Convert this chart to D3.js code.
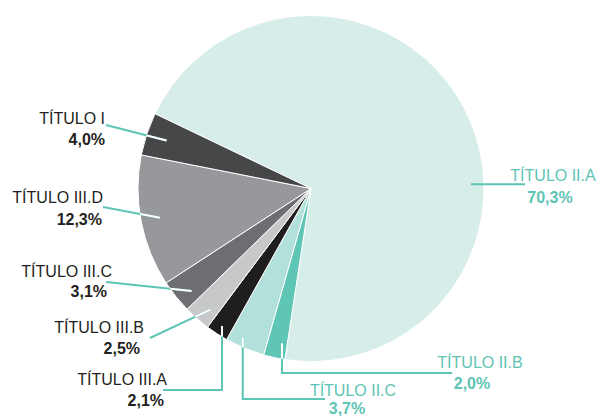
<!DOCTYPE html>
<html>
<head>
<meta charset="utf-8">
<script src="https://cdn.jsdelivr.net/npm/d3@7"></script>
<style>
  body { margin: 0; background: #fff; }
  text { font-family: "Liberation Sans", Arial, sans-serif; font-size: 16px; }
</style>
</head>
<body>
<div id="wrapper"></div>
<script>
// data, clockwise from the start angle
const categories = ["TÍTULO II.A", "TÍTULO II.B", "TÍTULO II.C", "TÍTULO III.A", "TÍTULO III.B", "TÍTULO III.C", "TÍTULO III.D", "TÍTULO I"];
const values = [70.3, 2.0, 3.7, 2.1, 2.5, 3.1, 12.3, 4.0];
const valueLabels = ["70,3%", "2,0%", "3,7%", "2,1%", "2,5%", "3,1%", "12,3%", "4,0%"];
const sliceColors = ["#d7ede9", "#5fc5b5", "#b2e0da", "#1f1d1e", "#c7c8ca", "#6d6e71", "#97989b", "#464749"];

const teal = "#5ec4b4";
const dark = "#231f20";

// label placement (t = fraction along the slice where the leader starts)
const labelLayout = [
  { t: 0.604, rIn: 0.925, kind: "h", end: [525, 0], title: [553, 181], pct: [550, 203], anchor: "middle", color: teal, white: false },
  { t: 0.27, rIn: 0.91, kind: "v", end: [452, 373], title: [480, 368], pct: [472, 389], anchor: "middle", color: teal, white: true },
  { t: 0.65, rIn: 0.95, kind: "v", end: [325, 399], title: [353, 396], pct: [347, 414], anchor: "middle", color: teal, white: true },
  { t: 0.49, rIn: 0.947, kind: "v", end: [163, 390], title: [167, 385], pct: [164, 406], anchor: "end", color: dark, white: true },
  { t: 0.33, rIn: 0.91, kind: "s", end: [150, 338], title: [144, 333], pct: [140, 354], anchor: "end", color: dark, white: true },
  { t: 0.32, rIn: 0.91, kind: "s", end: [106, 282], title: [112, 277], pct: [107, 297], anchor: "end", color: dark, white: true },
  { t: 0.5, rIn: 0.89, kind: "s", end: [103, 207], title: [103, 203], pct: [102, 225], anchor: "end", color: dark, white: true },
  { t: 0.5, rIn: 0.88, kind: "s", end: [106, 125], title: [105, 124], pct: [105, 145], anchor: "end", color: dark, white: true },
];

const dimensions = {
  width: 600,
  height: 416,
  cx: 311,
  cy: 188.5,
  radius: 173,
}

const wrapper = d3.select("#wrapper")
  .append("svg")
    .attr("width", dimensions.width)
    .attr("height", dimensions.height)

const startAngle = -64.4 * Math.PI / 180;

const pie = d3.pie()
  .sort(null)
  .value(d => d)
  .startAngle(startAngle)
  .endAngle(startAngle + 2 * Math.PI);

const arcs = pie(values);

const arc = d3.arc()
  .innerRadius(0)
  .outerRadius(dimensions.radius);

wrapper.append("defs")
  .append("clipPath")
    .attr("id", "pieClip")
  .append("circle")
    .attr("cx", dimensions.cx)
    .attr("cy", dimensions.cy)
    .attr("r", dimensions.radius);

const bounds = wrapper.append("g")
  .attr("transform", `translate(${dimensions.cx}, ${dimensions.cy})`)

bounds.selectAll("path")
  .data(arcs)
  .join("path")
    .attr("d", arc)
    .attr("fill", (d, i) => sliceColors[i])
    .attr("stroke", "#fff")
    .attr("stroke-width", 1)
    .attr("stroke-linejoin", "round");

const point = (a, r) => [dimensions.cx + r * Math.sin(a), dimensions.cy - r * Math.cos(a)];

const leaderPoints = arcs.map((d, i) => {
  const l = labelLayout[i];
  const a = d.startAngle + l.t * (d.endAngle - d.startAngle);
  const p0 = point(a, l.rIn * dimensions.radius);
  if (l.kind === "h") return [p0, [l.end[0], p0[1]]];
  if (l.kind === "v") return [p0, [p0[0], l.end[1]], l.end];
  return [p0, l.end];
});

const line = d3.line();

const leaders = wrapper.append("g");

leaders.selectAll(".leader")
  .data(leaderPoints)
  .join("path")
    .attr("class", "leader")
    .attr("d", line)
    .attr("fill", "none")
    .attr("stroke", teal)
    .attr("stroke-width", 2);

leaders.selectAll(".inner")
  .data(leaderPoints.filter((d, i) => labelLayout[i].white))
  .join("path")
    .attr("class", "inner")
    .attr("d", line)
    .attr("fill", "none")
    .attr("stroke", "#fff")
    .attr("stroke-width", 2)
    .attr("clip-path", "url(#pieClip)");

const labels = wrapper.append("g");

labels.selectAll(".title")
  .data(categories)
  .join("text")
    .attr("class", "title")
    .attr("x", (d, i) => labelLayout[i].title[0])
    .attr("y", (d, i) => labelLayout[i].title[1])
    .attr("text-anchor", (d, i) => labelLayout[i].anchor)
    .attr("fill", (d, i) => labelLayout[i].color)
    .text(d => d);

labels.selectAll(".pct")
  .data(valueLabels)
  .join("text")
    .attr("class", "pct")
    .attr("x", (d, i) => labelLayout[i].pct[0])
    .attr("y", (d, i) => labelLayout[i].pct[1])
    .attr("text-anchor", (d, i) => labelLayout[i].anchor)
    .attr("fill", (d, i) => labelLayout[i].color)
    .style("font-weight", "bold")
    .text(d => d);
</script>
</body>
</html>
